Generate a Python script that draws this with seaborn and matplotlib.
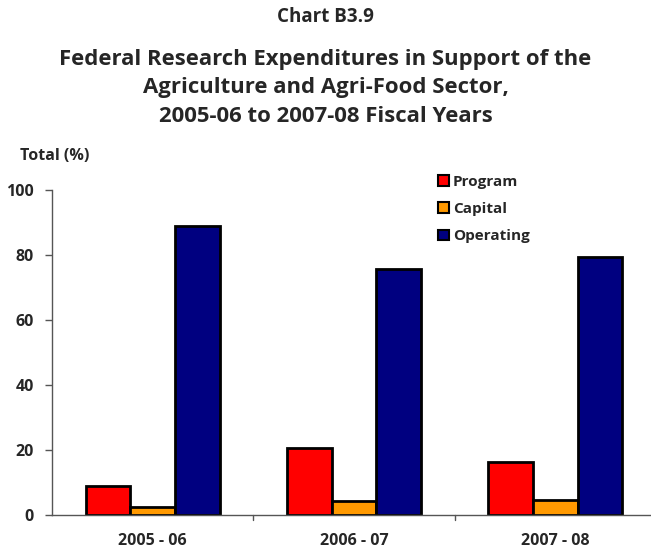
import matplotlib
matplotlib.use("Agg")
import matplotlib.pyplot as plt
import seaborn as sns
import pandas as pd

years = ["2005 - 06", "2006 - 07", "2007 - 08"]
series = ["Program", "Capital", "Operating"]
program = [8.9, 20.5, 16.3]
capital = [2.4, 4.3, 4.6]
operating = [88.9, 75.7, 79.4]
colors = ["#FF0000", "#FF9900", "#000080"]
yticks = [0, 20, 40, 60, 80, 100]

rows = []
for name, vals in zip(series, [program, capital, operating]):
    for y, v in zip(years, vals):
        rows.append({"Year": y, "Series": name, "Value": v})
df = pd.DataFrame(rows)

sns.set_theme(style="white")
plt.rcParams["font.family"] = ["Open Sans", "DejaVu Sans"]
W = "bold"

fig = plt.figure(figsize=(6.51, 5.52), dpi=100)
ax = fig.add_axes([52 / 651, 1 - 515 / 552, 604 / 651, 325 / 552])

sns.barplot(data=df, x="Year", y="Value", hue="Series", hue_order=series,
            palette=colors, width=0.667, edgecolor="black", linewidth=2,
            saturation=1, ax=ax, legend=True)

ax.set_ylim(0, 100)
ax.set_xlim(-0.5, 2.5)
ax.set_yticks(yticks)
ax.set_yticklabels([str(t) for t in yticks], fontsize=11.5, fontweight=W)
ax.set_xticks([0, 1, 2])
ax.set_xticklabels(years, fontsize=11.5, fontweight=W)
ax.tick_params(axis="x", length=0, pad=13)
ax.tick_params(axis="y", length=5, width=1, color="#555555", direction="out", pad=8, left=True)
for b in [0.5, 1.5]:
    ax.plot([b, b], [0, -1.5], color="#555555", lw=1, clip_on=False)
ax.set_xlabel("")
ax.set_ylabel("")
for s in ["top", "right"]:
    ax.spines[s].set_visible(False)
for s in ["left", "bottom"]:
    ax.spines[s].set_color("#555555")
    ax.spines[s].set_linewidth(1)

leg = ax.legend(loc="upper left", bbox_to_anchor=(0.617, 1.09), frameon=False,
                handlelength=0.7, handleheight=0.7, labelspacing=0.88,
                handletextpad=0.25, prop={"weight": W, "size": 11})
for h in leg.legend_handles:
    h.set_edgecolor("black")
    h.set_linewidth(1.5)

fig.text(0.5, 1 - 17 / 552, "Chart B3.9", ha="center", va="center", fontsize=13.5, fontweight=W)
fig.text(0.5, 1 - 88 / 552,
         "Federal Research Expenditures in Support of the\nAgriculture and Agri-Food Sector,\n2005-06 to 2007-08 Fiscal Years",
         ha="center", va="center", fontsize=15.9, fontweight=W, linespacing=1.45)
fig.text(20 / 651, 1 - 156 / 552, "Total (%)", ha="left", va="center", fontsize=11.5, fontweight=W)

fig.savefig("out.png", dpi=100)
